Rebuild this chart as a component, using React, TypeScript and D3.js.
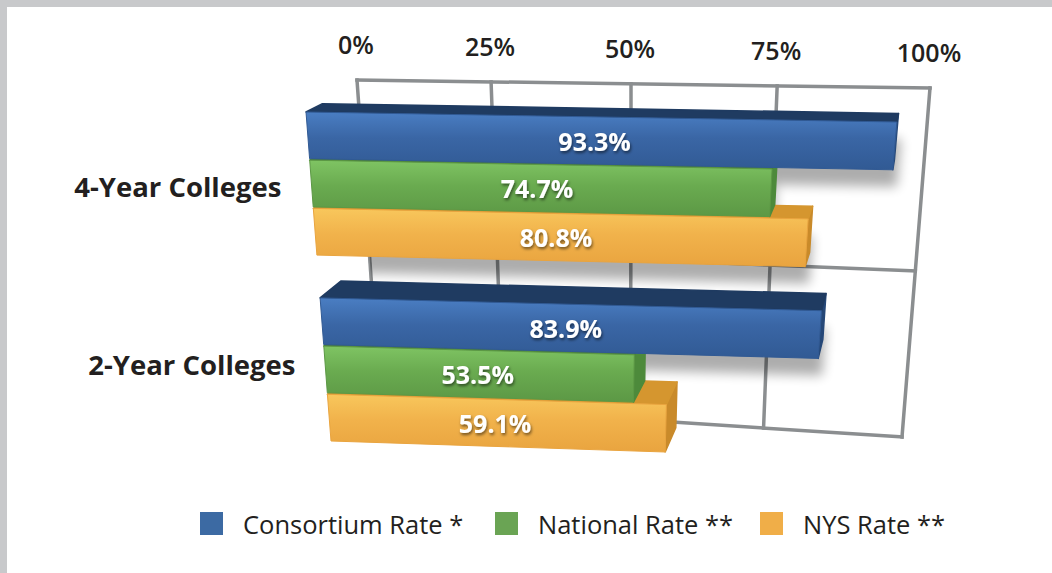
import React from 'react';
import * as d3 from 'd3';

const categories = ['4-Year Colleges', '2-Year Colleges'];
const seriesNames = ['Consortium Rate *', 'National Rate **', 'NYS Rate **'];
const consortiumRate = [93.3, 83.9];
const nationalRate = [74.7, 53.5];
const nysRate = [80.8, 59.1];
const tickValues = [0, 25, 50, 75, 100];
const tickLabels = ['0%', '25%', '50%', '75%', '100%'];

const seriesValues = [consortiumRate, nationalRate, nysRate];

type P = [number, number];

function homography(src: P[], dst: P[]) {
  const A: number[][] = [];
  const b: number[] = [];
  for (let i = 0; i < 4; i++) {
    const [x, y] = src[i];
    const [X, Y] = dst[i];
    A.push([x, y, 1, 0, 0, 0, -x * X, -y * X]);
    b.push(X);
    A.push([0, 0, 0, x, y, 1, -x * Y, -y * Y]);
    b.push(Y);
  }
  const n = 8;
  for (let c = 0; c < n; c++) {
    let piv = c;
    for (let r = c + 1; r < n; r++) if (Math.abs(A[r][c]) > Math.abs(A[piv][c])) piv = r;
    [A[c], A[piv]] = [A[piv], A[c]];
    [b[c], b[piv]] = [b[piv], b[c]];
    for (let r = 0; r < n; r++) {
      if (r === c) continue;
      const f = A[r][c] / A[c][c];
      for (let k = c; k < n; k++) A[r][k] -= f * A[c][k];
      b[r] -= f * b[c];
    }
  }
  const h = b.map((v, i) => v / A[i][i]);
  return (x: number, y: number): P => {
    const w = h[6] * x + h[7] * y + 1;
    return [(h[0] * x + h[1] * y + h[2]) / w, (h[3] * x + h[4] * y + h[5]) / w];
  };
}

// projection frames (layout calibration: unit plane -> screen)
const wallFrame = homography(
  [[0, 0], [1, 0], [1, 1], [0, 1]],
  [[357, 80], [930, 88], [902, 437], [380, 403]]
);

// front plane of the bars: bilinear frame with mild horizontal perspective
const FRONT_TL: P = [306, 112];
const FRONT_TR: P = [941.5, 122.75];
const FRONT_BL: P = [331, 441];
const FRONT_BR: P = [908, 460];
const PERSP = 1.05;
const lerp = (a: P, b: P, t: number): P => [a[0] + (b[0] - a[0]) * t, a[1] + (b[1] - a[1]) * t];
function frontFrame(u: number, v: number): P {
  const p = u / (PERSP - (PERSP - 1) * u);
  return lerp(lerp(FRONT_TL, FRONT_TR, p), lerp(FRONT_BL, FRONT_BR, p), v);
}
const VP: P = [960, -222];

const palette: Record<string, any> = {
  'Consortium Rate *': { front: ['#4a7ec3', '#3a66a5', '#315a94'], top: '#1f3b61', side: '#264878', legend: '#3c6aa3' },
  'National Rate **': { front: ['#7fc463', '#6aab50', '#5c9845'], top: '#4a7f38', side: '#4d8a3b', legend: '#6aa454' },
  'NYS Rate **': { front: ['#f8c75c', '#f1b24b', '#e9a43f'], top: '#d5962f', side: '#c98a2a', legend: '#f0ae48' },
};

const font = "'Open Sans', 'Noto Sans', sans-serif";

const ptsStr = (ps: P[]) => ps.map((p) => `${p[0].toFixed(1)},${p[1].toFixed(1)}`).join(' ');

export default function App() {
  const xScale = d3.scaleLinear().domain([0, 100]).range([0, 1]);
  const groupScale = d3.scaleBand<string>().domain(categories).range([0, 1]).paddingInner(0.23);
  const seriesScale = d3
    .scaleBand<string>()
    .domain(seriesNames)
    .range([0, groupScale.bandwidth()])
    .paddingInner(0.03);

  const back = (p: P, k: number): P => [p[0] + k * (VP[0] - p[0]), p[1] + k * (VP[1] - p[1])];

  const wallPoly: P[] = [wallFrame(0, 0), wallFrame(1, 0), wallFrame(1, 1), wallFrame(0, 1)];

  const bars: any[] = [];
  [...categories].reverse().forEach((cat) => {
    const gi = categories.indexOf(cat);
    [...seriesNames].reverse().forEach((s) => {
      const si = seriesNames.indexOf(s);
      const value = seriesValues[si][gi];
      const v0 = (groupScale(cat) as number) + (seriesScale(s) as number);
      const v1 = v0 + seriesScale.bandwidth();
      const u1 = xScale(value);
      const flt = frontFrame(0, v0);
      const frt = frontFrame(u1, v0);
      const frb = frontFrame(u1, v1);
      const flb = frontFrame(0, v1);
      const k = 0.025 + 0.013 * v0;
      const top: P[] = [flt, frt, back(frt, k), back(flt, k)];
      const side: P[] = [frt, frb, back(frb, k), back(frt, k)];
      const front: P[] = [flt, frt, frb, flb];
      const label = frontFrame(u1 / 2, (v0 + v1) / 2);
      bars.push({ cat, s, si, value, top, side, front, label });
    });
  });

  return (
    <svg
      width={1052}
      height={573}
      style={{ position: 'absolute', left: 0, top: 0, background: '#ffffff' }}
      fontFamily={font}
    >
      <defs>
        <filter id="shadowBlur" x="-20%" y="-20%" width="140%" height="140%">
          <feGaussianBlur stdDeviation="6" />
        </filter>
        <filter id="textShadow" x="-20%" y="-30%" width="140%" height="160%">
          <feDropShadow dx="1" dy="2" stdDeviation="1.5" floodColor="#000" floodOpacity="0.55" />
        </filter>
        <clipPath id="wallClip">
          <polygon points={ptsStr(wallPoly)} />
        </clipPath>
        {seriesNames.map((s, i) => (
          <linearGradient key={s} id={`grad${i}`} x1="0" y1="0" x2="0" y2="1">
            <stop offset="0%" stopColor={palette[s].front[0]} />
            <stop offset="45%" stopColor={palette[s].front[1]} />
            <stop offset="100%" stopColor={palette[s].front[2]} />
          </linearGradient>
        ))}
      </defs>

      <rect x={0} y={0} width={1052} height={573} fill="#ffffff" />
      <rect x={0} y={0} width={1052} height={7} fill="#c8c9cb" />
      <rect x={0} y={0} width={7} height={573} fill="#c8c9cb" />

      {/* wall grid */}
      <g stroke="#8b8e90" strokeWidth={3.5} fill="none" strokeLinecap="square">
        {tickValues.map((t) => {
          const a = wallFrame(xScale(t), 0);
          const b = wallFrame(xScale(t), 1);
          return <line key={`v${t}`} x1={a[0]} y1={a[1]} x2={b[0]} y2={b[1]} />;
        })}
        {[0, 0.5, 1].map((v) => {
          const a = wallFrame(0, v);
          const b = wallFrame(1, v);
          return <line key={`h${v}`} x1={a[0]} y1={a[1]} x2={b[0]} y2={b[1]} />;
        })}
      </g>

      {/* shadows on wall */}
      <g clipPath="url(#wallClip)">
        <g opacity={0.32} filter="url(#shadowBlur)">
          {bars.map((b, i) => (
            <polygon
              key={`sh${i}`}
              points={ptsStr(b.front.map((p: P) => [p[0] + 4, p[1] + 17] as P))}
              fill="#000"
            />
          ))}
        </g>
      </g>

      {/* bars */}
      {bars.map((b, i) => {
        const c = palette[b.s];
        return (
          <g key={`bar${i}`} strokeLinejoin="round">
            <polygon points={ptsStr(b.side)} fill={c.side} stroke={c.side} strokeWidth={1.5} />
            <polygon points={ptsStr(b.top)} fill={c.top} stroke={c.top} strokeWidth={1.5} />
            <polygon points={ptsStr(b.front)} fill={`url(#grad${b.si})`} stroke={c.front[2]} strokeWidth={1} />
          </g>
        );
      })}

      {/* bar labels */}
      {bars.map((b, i) => (
        <text
          key={`lbl${i}`}
          x={b.label[0]}
          y={b.label[1]}
          textAnchor="middle"
          dominantBaseline="central"
          fill="#ffffff"
          fontWeight={700}
          fontSize={25}
          filter="url(#textShadow)"
        >
          {`${b.value.toFixed(1)}%`}
        </text>
      ))}

      {/* axis tick labels */}
      {tickValues.map((t, i) => {
        const p = wallFrame(xScale(t), 0);
        return (
          <text
            key={`t${t}`}
            x={p[0] - 1}
            y={p[1] - 26}
            textAnchor="middle"
            fill="#231f20"
            fontWeight={600}
            fontSize={25}
          >
            {tickLabels[i]}
          </text>
        );
      })}

      {/* category labels */}
      {categories.map((cat, i) => {
        const v = (groupScale(cat) as number) + groupScale.bandwidth() / 2;
        const p = frontFrame(0, v);
        return (
          <text
            key={cat}
            x={p[0] - 30}
            y={p[1] + (i === 0 ? 3 : -5)}
            textAnchor="end"
            dominantBaseline="central"
            fill="#231f20"
            fontWeight={700}
            fontSize={27.5}
          >
            {cat}
          </text>
        );
      })}

      {/* legend */}
      {seriesNames.map((s, i) => {
        const lx = [200, 495, 760][i];
        return (
          <g key={`lg${s}`}>
            <rect x={lx} y={512} width={23} height={23} fill={palette[s].legend} />
            <text x={lx + 43} y={524} dominantBaseline="central" fill="#231f20" fontSize={25.5}>
              {s}
            </text>
          </g>
        );
      })}
    </svg>
  );
}
